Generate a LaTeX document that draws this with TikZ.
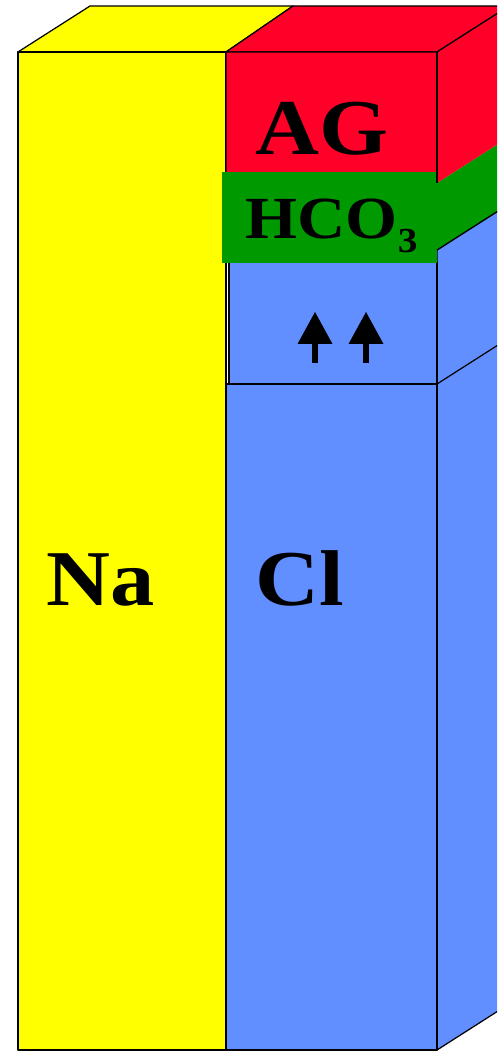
\documentclass[tikz,border=0pt]{standalone}
\usepackage{fontspec}
\setmainfont{Liberation Serif}[FakeStretch=1.12]
\usepackage{tikz}
\usetikzlibrary{arrows.meta}
\definecolor{nayellow}{RGB}{255,255,0}
\definecolor{agred}{RGB}{255,0,41}
\definecolor{hcogreen}{RGB}{0,153,0}
\definecolor{clblue}{RGB}{97,143,255}

\begin{document}
\begin{tikzpicture}[x=0.02cm, y=-0.02cm,
  face/.style={draw=black, line width=0.7pt, line join=round},
  ion/.style={font=\fontsize{45}{45}\selectfont\bfseries, inner sep=0pt, anchor=base},
  uparrow/.style={line width=0.12cm, -{Triangle[length=0.64cm, width=0.7cm, line width=0pt]}}]
\useasboundingbox (0,0) rectangle (497,1053);
\clip (0,0) rectangle (497,1053);
% Na column
\filldraw[face, fill=nayellow] (18,52) -- (90,6) -- (293,6) -- (226,52) -- cycle;
\filldraw[face, fill=nayellow] (18,52) rectangle (226,1050);
% Cl column
\filldraw[face, fill=clblue] (437,250) -- (509,204) -- (509,1004) -- (437,1050) -- cycle;
\draw[face] (437,384) -- (509,338);
\filldraw[face, fill=clblue] (226,384) rectangle (437,1050);
\filldraw[face, fill=clblue] (229,262) rectangle (437,384);
% HCO3 band
\fill[hcogreen] (437,183) -- (509,137) -- (509,204) -- (437,250) -- cycle;
\fill[hcogreen] (222,172) rectangle (437,263);
\draw[face] (437,250) -- (509,204);
% AG cap
\filldraw[face, fill=agred] (226,52) -- (293,6) -- (509,6) -- (437,52) -- cycle;
\fill[agred] (437,52) -- (509,6) -- (509,137) -- (437,183) -- cycle;
\fill[agred] (226,52) rectangle (437,172);
\draw[face] (226,172) -- (226,52) -- (437,52) -- (509,6);
\draw[face] (437,52) -- (437,183);
\node[ion] (ag) at (322,155) {AG};
\node[ion, font=\fontsize{34}{34}\selectfont\bfseries, anchor=base west] (hco) at (245,239)
  {HCO{\fontsize{20}{20}\selectfont\raisebox{-7.5pt}{3}}};
\node[ion] (na) at (101,605) {Na};
\node[ion] (cl) at (300,605) {Cl};
\coordinate (upL-base) at (315,363);
\coordinate (upL-tip) at (315,312);
\coordinate (upR-base) at (366,363);
\coordinate (upR-tip) at (366,312);
\draw[uparrow] (upL-base) -- (upL-tip);
\draw[uparrow] (upR-base) -- (upR-tip);
\end{tikzpicture}
\end{document}
